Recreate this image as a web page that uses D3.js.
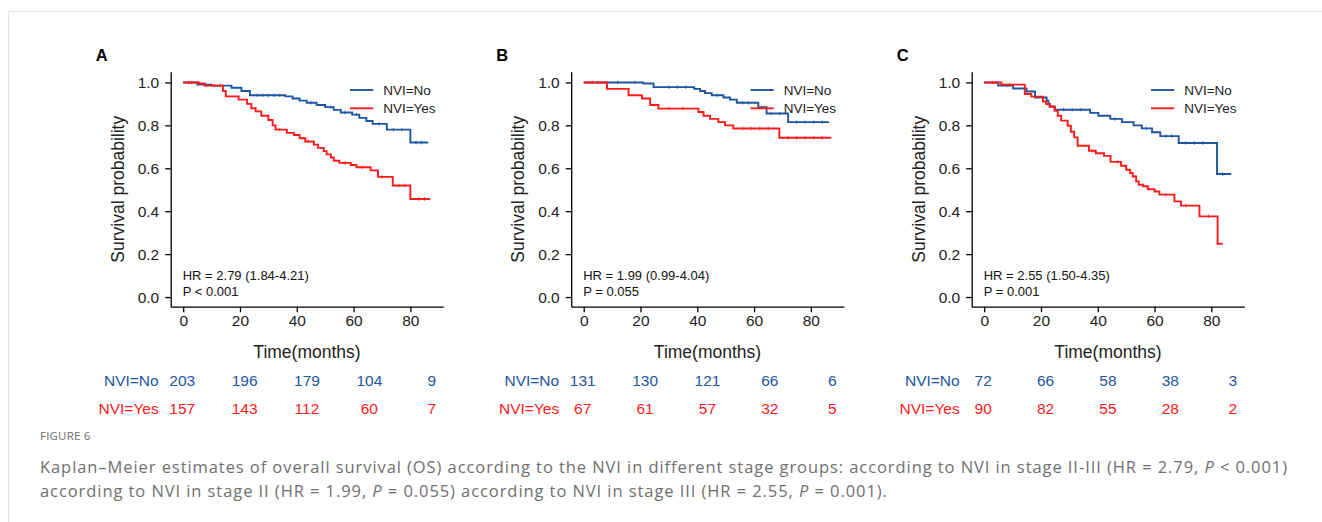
<!DOCTYPE html>
<html>
<head>
<meta charset="utf-8">
<script src="https://cdn.jsdelivr.net/npm/d3@7"></script>
<style>
  body { margin: 0; background: #fff; }
  svg { display: block; }
  .axis text { font-family: "Liberation Sans", Arial, sans-serif; font-size: 15.5px; fill: #222; }
  .axis path, .axis line { stroke: #000; stroke-width: 1.3; }
</style>
</head>
<body>
<svg id="fig" width="1322" height="522"></svg>
<script>
// ticks
var timeTicks = [0, 20, 40, 60, 80];
var survTicks = [0, 0.2, 0.4, 0.6, 0.8, 1.0];
var groups = ['NVI=No', 'NVI=Yes'];
var panelLetters = ['A', 'B', 'C'];
var hrLabels = ['HR = 2.79 (1.84-4.21)', 'HR = 1.99 (0.99-4.04)', 'HR = 2.55 (1.50-4.35)'];
var pLabels = ['P < 0.001', 'P = 0.055', 'P = 0.001'];

// numbers at risk
var riskNo = [[203, 196, 179, 104, 9], [131, 130, 121, 66, 6], [72, 66, 58, 38, 3]];
var riskYes = [[157, 143, 112, 60, 7], [67, 61, 57, 32, 5], [90, 82, 55, 28, 2]];

// KM steps [month, survival], last pair = end of follow-up
var aNo = [[0, 1], [5, 0.99], [10, 0.985], [17, 0.975], [20.5, 0.96], [23.5, 0.94], [36, 0.935],
  [38.5, 0.925], [41, 0.915], [43.5, 0.905], [47, 0.895], [50, 0.885], [53, 0.872], [55.5, 0.86],
  [59.5, 0.85], [62, 0.835], [64.5, 0.82], [66.7, 0.807], [71.7, 0.78], [80, 0.72], [86.3, 0.72]];
var aYes = [[0, 1], [5.5, 0.995], [7.5, 0.985], [14, 0.96], [15, 0.935], [19.5, 0.92], [22.5, 0.9],
  [24, 0.88], [25.5, 0.865], [27.5, 0.845], [30, 0.825], [31.5, 0.8], [32.5, 0.78], [36.5, 0.765],
  [39, 0.755], [41, 0.74], [43, 0.725], [46, 0.71], [47.5, 0.695], [49.5, 0.68], [50.5, 0.665],
  [52, 0.65], [53, 0.635], [55, 0.625], [59, 0.615], [61, 0.605], [66, 0.59], [68.6, 0.56],
  [73.8, 0.52], [80, 0.457], [87, 0.457]];
var bNo = [[0, 1], [21, 0.995], [24.6, 0.978], [38.9, 0.97], [41, 0.96], [42.7, 0.95], [45.1, 0.94],
  [49.2, 0.93], [51.5, 0.92], [53.9, 0.905], [61.5, 0.885], [64.4, 0.855], [72, 0.815], [86.4, 0.815]];
var bYes = [[0, 1], [8.2, 0.97], [15.8, 0.94], [20.5, 0.925], [23.4, 0.895], [26.3, 0.878],
  [40.4, 0.862], [42.2, 0.845], [44.5, 0.83], [47.4, 0.815], [49.8, 0.8], [52.7, 0.785],
  [68.9, 0.742], [87.2, 0.742]];
var cNo = [[0, 1], [4.9, 0.986], [10.2, 0.972], [14.9, 0.958], [17.9, 0.93], [22, 0.915],
  [22.6, 0.9], [23.2, 0.887], [24.9, 0.873], [37.3, 0.858], [40.2, 0.845], [44.4, 0.83],
  [48.5, 0.815], [52.6, 0.8], [55.5, 0.786], [59.1, 0.768], [62, 0.75], [68.5, 0.718],
  [82, 0.573], [87, 0.573]];
var cYes = [[0, 1], [6.1, 0.99], [14.3, 0.946], [16.6, 0.934], [20.7, 0.911], [21.8, 0.899],
  [23, 0.888], [24.8, 0.868], [25.9, 0.845], [27.1, 0.822], [29.4, 0.798], [30.5, 0.77],
  [31.7, 0.744], [32.9, 0.705], [36.9, 0.682], [39.3, 0.67], [42.2, 0.658], [44.5, 0.63],
  [48.2, 0.612], [50, 0.593], [51.4, 0.578], [52.3, 0.562], [53.5, 0.539], [54.4, 0.523],
  [55.9, 0.516], [57.6, 0.503], [60, 0.492], [61.7, 0.477], [67, 0.446], [69.3, 0.426],
  [75.8, 0.376], [82.2, 0.248], [84, 0.248]];

// censoring times (small ticks on the curves)
var aNoCens = [3, 8, 13, 26, 28, 30, 32, 34, 45, 52, 57, 61, 69, 74, 77, 82, 84];
var aYesCens = [2, 11, 34, 44, 57, 63, 70, 76, 78, 83, 85];
var bNoCens = [5, 12, 18, 30, 33, 36, 47, 56, 58, 66, 69, 75, 78, 81, 84];
var bYesCens = [3, 30, 35, 56, 59, 62, 65, 72, 75, 78, 81, 84];
var cNoCens = [8, 28, 31, 34, 46, 57, 64, 66, 71, 74, 77, 84];
var cYesCens = [3, 9, 38, 47, 58, 64, 71, 79];

var curves = [[aNo, aYes], [bNo, bYes], [cNo, cYes]];
var censors = [[aNoCens, aYesCens], [bNoCens, bYesCens], [cNoCens, cYesCens]];
var colors = ['#1d55a0', '#ff1a1a'];

var svg = d3.select('#fig');
var font = '"Liberation Sans", Arial, sans-serif';

// outer frame
svg.append('path')
  .attr('d', 'M8.5,540 V11.5 H1340')
  .attr('fill', 'none')
  .attr('stroke', '#e3e3e3');

var plotW = 272.6, plotH = 235, plotTop = 71.7;

var x = d3.scaleLinear().domain([-4.4, 91.6]).range([0, plotW]);
var y = d3.scaleLinear().domain([-0.045, 1.05]).range([plotH, 0]);
// the risk table below is laid out a little wider than the plot axis
var riskX = d3.scaleLinear().domain([0, 80]).range([11.5, 261]);

var stepLine = d3.line()
  .x(function(d) { return x(d[0]); })
  .y(function(d) { return y(d[1]); })
  .curve(d3.curveStepAfter);

function survAt(steps, t) {
  var s = steps[0][1];
  steps.forEach(function(d) { if (d[0] <= t) s = d[1]; });
  return s;
}

panelLetters.forEach(function(letter, i) {
  var left = 170.7 + 400.5 * i;
  var g = svg.append('g').attr('transform', 'translate(' + left + ',' + plotTop + ')');

  g.append('text')
    .attr('x', -75).attr('y', -11)
    .attr('font-family', font).attr('font-size', 16.5).attr('font-weight', 'bold')
    .text(letter);

  g.append('g')
    .attr('class', 'axis')
    .call(d3.axisLeft(y).tickValues(survTicks).tickFormat(d3.format('.1f')).tickSize(5.5).tickSizeOuter(0).tickPadding(6));

  g.append('g')
    .attr('class', 'axis')
    .attr('transform', 'translate(0,' + plotH + ')')
    .call(d3.axisBottom(x).tickValues(timeTicks).tickSize(5.5).tickSizeOuter(0).tickPadding(3));

  g.selectAll('.axis .domain').attr('stroke-width', 1.5);

  g.append('text')
    .attr('x', plotW / 2).attr('y', plotH + 51)
    .attr('text-anchor', 'middle')
    .attr('font-family', font).attr('font-size', 17.5).attr('fill', '#222')
    .text('Time(months)');

  g.append('text')
    .attr('transform', 'translate(-47,' + (plotH / 2) + ') rotate(-90)')
    .attr('text-anchor', 'middle')
    .attr('font-family', font).attr('font-size', 17.5).attr('fill', '#222')
    .text('Survival probability');

  curves[i].forEach(function(steps, k) {
    g.append('path')
      .datum(steps)
      .attr('d', stepLine)
      .attr('fill', 'none')
      .attr('stroke', colors[k])
      .attr('stroke-width', 1.9);

    g.selectAll('.cens' + k)
      .data(censors[i][k])
      .enter()
      .append('line')
      .attr('x1', function(t) { return x(t); })
      .attr('x2', function(t) { return x(t); })
      .attr('y1', function(t) { return y(survAt(steps, t)) - 1.8; })
      .attr('y2', function(t) { return y(survAt(steps, t)) + 1.8; })
      .attr('stroke', colors[k])
      .attr('stroke-width', 0.8);
  });

  // legend
  groups.forEach(function(name, k) {
    var ly = 18.3 + 18.3 * k;
    g.append('line')
      .attr('x1', 179.3).attr('x2', 202.5)
      .attr('y1', ly).attr('y2', ly)
      .attr('stroke', colors[k]).attr('stroke-width', 1.9);
    g.append('text')
      .attr('x', 212.5).attr('y', ly + 4.8)
      .attr('font-family', font).attr('font-size', 13.5).attr('fill', '#222')
      .text(name);
  });

  g.append('text')
    .attr('x', 12).attr('y', 208.5)
    .attr('font-family', font).attr('font-size', 13).attr('fill', '#111')
    .text(hrLabels[i]);
  g.append('text')
    .attr('x', 12).attr('y', 224.5)
    .attr('font-family', font).attr('font-size', 13).attr('fill', '#111')
    .text(pLabels[i]);

  // risk table
  [riskNo[i], riskYes[i]].forEach(function(row, k) {
    var ry = 314 + 28 * k;
    g.append('text')
      .attr('x', -12).attr('y', ry)
      .attr('text-anchor', 'end')
      .attr('font-family', font).attr('font-size', 15.5).attr('fill', colors[k])
      .text(groups[k]);
    g.selectAll('.risk' + k)
      .data(row)
      .enter()
      .append('text')
      .attr('x', function(d, j) { return riskX(timeTicks[j]); })
      .attr('y', ry)
      .attr('text-anchor', 'middle')
      .attr('font-family', font).attr('font-size', 15.5).attr('fill', colors[k])
      .text(function(d) { return d; });
  });
});

// caption
var capFont = '"Open Sans", "Noto Sans", sans-serif';
svg.append('text')
  .attr('x', 40).attr('y', 440)
  .attr('font-family', capFont).attr('font-size', 11.5).attr('fill', '#6f6f6f')
  .attr('letter-spacing', 0.2)
  .text('FIGURE 6');

var line1 = svg.append('text')
  .attr('x', 40).attr('y', 473)
  .attr('font-family', capFont).attr('font-size', 16.5).attr('fill', '#6f6f6f');
line1.append('tspan').text('Kaplan\u2013Meier estimates of overall survival (OS) according to the NVI in different stage groups: according to NVI in stage II-III (HR = 2.79, ');
line1.append('tspan').attr('font-style', 'italic').text('P');
line1.append('tspan').text(' < 0.001)');

var line2 = svg.append('text')
  .attr('x', 40).attr('y', 497)
  .attr('font-family', capFont).attr('font-size', 16.5).attr('fill', '#6f6f6f');
line2.append('tspan').text('according to NVI in stage II (HR = 1.99, ');
line2.append('tspan').attr('font-style', 'italic').text('P');
line2.append('tspan').text(' = 0.055) according to NVI in stage III (HR = 2.55, ');
line2.append('tspan').attr('font-style', 'italic').text('P');
line2.append('tspan').text(' = 0.001).');

// stretch caption lines to the width seen in the reference
var w1 = line1.node().getComputedTextLength();
var nChars = line1.text().length;
var ls = (1248 - w1) / nChars;
line1.attr('letter-spacing', ls);
line2.attr('letter-spacing', ls);
</script>
</body>
</html>
